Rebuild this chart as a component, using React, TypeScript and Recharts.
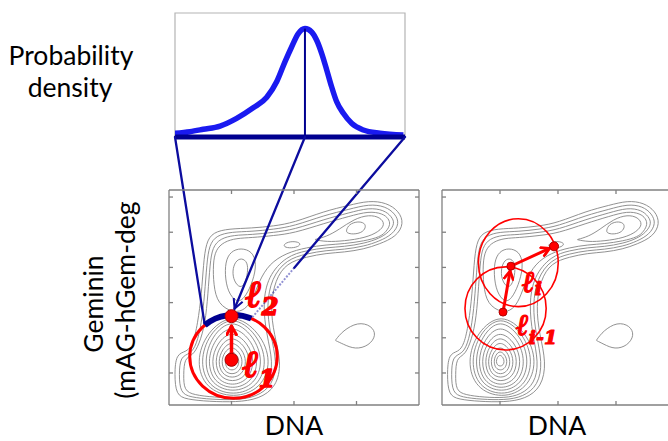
import React from 'react';
import { ComposedChart, Line, XAxis, YAxis, ReferenceLine, ReferenceDot, ReferenceArea } from 'recharts';

const CANVAS_W = 668;
const CANVAS_H = 441;

// Plot rectangles of the three panels (pixels)
const DENSITY_BOX = { left: 175, top: 13, right: 405, bottom: 137 };
const LEFT_BOX = { left: 169, top: 190, right: 419, bottom: 405 };
const RIGHT_BOX = { left: 442, top: 190, right: 674, bottom: 405 };

// Axis domains and tick positions
const DENSITY_X_DOMAIN = [0, 100];
const DENSITY_Y_DOMAIN = [0, 1];
const DNA_DOMAIN = [0, 100];
const GEMININ_DOMAIN = [-18.2, 104];
const DNA_TICKS = [25, 50, 75];
const GEMININ_TICKS = [0, 20, 40, 60, 80, 100];

// Probability density sampled along the blue arc
const arcPosition = [0, 6.5, 12.3, 19.6, 26.8, 34.0, 39.9, 44.2, 47.8, 50.7, 53.6, 56.5, 59.4, 61.6, 63.8, 66.0, 68.1, 70.3, 73.2, 76.8, 81.9, 89.1, 99.3];
const probabilityDensity = [0.03, 0.043, 0.062, 0.088, 0.15, 0.235, 0.32, 0.445, 0.606, 0.726, 0.834, 0.874, 0.847, 0.78, 0.673, 0.539, 0.405, 0.284, 0.191, 0.11, 0.056, 0.03, 0.016];

// Contours of the DNA / Geminin density, as closed control polygons [x0, y0, x1, y1, ...]
const clusterRings = [
  [25, 10.5, 26.35, 8.86, 26.9, 6.5, 26.4, 4.5, 25.1, 3.7, 23.8, 4.5, 23.3, 6.5, 23.8, 8.86],
  [25, 12.8, 27.25, 10.2, 28.2, 6.5, 27.3, 2.7, 25.2, 1.3, 23.0, 2.7, 22.3, 6.5, 23.05, 10.2],
  [25, 15.4, 28.3, 11.8, 29.6, 6.5, 28.4, 1.0, 25.2, -1.1, 22.0, 1.0, 20.9, 6.5, 22.1, 11.8],
  [25, 18.4, 29.35, 13.5, 31.1, 6.5, 29.5, -0.6, 25.3, -3.2, 21.0, -0.6, 19.6, 6.5, 21.2, 13.5],
  [25, 21.4, 30.5, 15.3, 32.7, 6.5, 30.7, -2.2, 25.4, -5.4, 20.0, -2.2, 18.3, 6.5, 20.2, 15.3],
  [25, 24.4, 31.7, 17.0, 34.3, 6.5, 31.9, -3.8, 25.4, -7.6, 18.9, -3.8, 16.8, 6.5, 19.15, 17.0],
  [25, 27.9, 32.9, 19.2, 36.0, 6.5, 33.2, -5.2, 25.5, -9.6, 17.8, -5.2, 15.3, 6.5, 18.1, 19.2],
  [25, 31.3, 34.1, 21.1, 37.7, 6.5, 34.4, -6.5, 25.6, -11.4, 16.7, -6.5, 13.9, 6.5, 17.05, 21.1],
  [25.2, 33.3, 35.3, 22.3, 39.4, 6.5, 35.7, -7.9, 25.7, -13.2, 15.6, -7.9, 12.3, 6.5, 15.9, 22.3],
  [25.4, 34.6, 36.5, 23.1, 41.1, 6.5, 36.9, -8.9, 25.8, -14.6, 14.5, -8.9, 10.8, 6.5, 14.9, 23.1],
];

const bandContours = [
  [27, -16.6, 16, -16.2, 7, -15, 2.8, -12.5, 2.2, -1, 2.8, 11, 7, 12, 9.5, 16, 11.5, 28, 13, 45, 13.8, 62, 14.8, 74, 17.5, 80, 24, 82, 33, 82.3, 42, 83.5, 50, 85.5, 62, 91.9, 72, 95.3, 80, 98, 87, 96.8, 92, 92, 94, 85, 91, 77.5, 84, 73.2, 78, 70.4, 70, 68.6, 63, 68.1, 55, 66, 47, 62.5, 42.5, 53, 40.5, 38, 42, 22, 45, 6, 43, -8, 36, -14.8],
  [27, -15.4, 17, -15, 8.5, -13.8, 4.5, -11.2, 4, -1, 4.5, 9.5, 8.5, 10.8, 11, 16, 13, 28, 14.3, 45, 15.1, 62, 16.1, 72.8, 19, 78.2, 25, 80.2, 33, 80.4, 42, 81.7, 50, 83.5, 62, 89.6, 72, 93, 80, 96, 86.5, 94.8, 90.5, 90.5, 92.2, 85, 89.5, 78.8, 84, 74.8, 78, 72, 70, 70.2, 63, 69.7, 55, 67.8, 47, 64.5, 41, 54, 39, 38.5, 40.5, 22, 43.3, 6, 41.5, -7, 35, -13.6],
  [27, -14.2, 18, -13.8, 10, -12.5, 6, -10, 5.8, -1, 6.2, 8.5, 9.5, 10, 12, 16, 14.5, 28, 15.6, 45, 16.4, 62, 17.4, 71.5, 20.5, 76.4, 26, 78.4, 33, 78.6, 42, 79.9, 50, 81.5, 62, 87.3, 72, 91, 80, 94, 86, 92.6, 89, 89, 90.4, 85, 88, 80, 84, 76.4, 78, 73.6, 70, 71.8, 63, 71.3, 55, 69.6, 47, 66.5, 39.5, 55, 37.5, 39, 39, 22, 41.7, 6, 40, -6, 34, -12.4],
  [26, 34, 19.5, 39, 17.8, 50, 17.6, 62, 18.6, 70, 22, 74.6, 27, 76.6, 33, 76.9, 42, 78.1, 50, 79.5, 62, 85, 72, 89, 80, 92, 85.5, 90.6, 87.8, 87.8, 88.6, 84.5, 87, 80.5, 84.5, 77.3, 78, 75, 70, 73.4, 63, 72.9, 55, 71.3, 47, 68.3, 40, 62, 36, 52, 33.5, 42, 30.5, 36],
  [27, 40, 23.5, 46, 22.3, 56, 22.8, 65, 25.5, 70, 30, 71, 34, 68, 35, 60, 33, 50, 30, 42],
];

const peakLoops = [
  [28.5, 48, 26, 52, 25.3, 58, 26.5, 63.5, 29, 65.5, 31.5, 63, 31.5, 57, 30.5, 51],
  [45.5, 72.5, 47.5, 74.6, 51, 74.8, 53, 73.3, 51, 71.2, 47, 71],
  [58.2, 75.8, 58.2, 75.8, 63, 77.5, 68, 81.5, 74, 87.5, 80, 90, 84.5, 88.5, 86.5, 84.5, 84, 80.3, 78.5, 76.8, 70, 75, 63, 74.5],
  [70.8, 81, 72, 84.5, 75.3, 86.2, 78.3, 85.4, 78.8, 82.5, 77, 79.6, 73.5, 78.8, 71.2, 79.5],
];

const sideBlob = [66.5, 18.5, 66.5, 18.5, 69.5, 24, 75.5, 29, 81, 27, 83, 21.5, 80, 15.5, 74.5, 13.3, 69.5, 16.5];

// Search steps (DNA, Geminin) and the search circles around them
const leftSteps = [{ x: 25, y: 7.5 }, { x: 25, y: 32.3 }];
const leftStepNames = ['1', '2'];
const leftCircle = { x: 25.8, y: 9.3, rx: 17.5, ry: 23.7 };
const arcAngles = [66, 131];

const rightSteps = [{ x: 26.3, y: 34.6 }, { x: 29.7, y: 60.7 }, { x: 48.3, y: 72 }];
const rightStepNames = ['i-1', 'i', ''];
const rightCircles = [
  { x: 27.4, y: 36.7, rx: 17.5, ry: 23.6 },
  { x: 32.9, y: 62.7, rx: 17.2, ry: 25 },
];

// ---- styling ----
const AXIS_GREY = '#808080';
const CONTOUR_GREY = '#858585';
const NAVY = '#000090';
const LINE_NAVY = '#0c0c9e';
const CURVE_BLUE = '#1a1af0';
const RED = '#ff0000';
const TEXT_FONT = "Lato, 'Open Sans', sans-serif";
const SCRIPT_FONT = "'DejaVu Serif', serif";

const LEFT_LABEL_STYLE = [
  { dx: 11, dy: 17, size: 38, weight: 1.6, subDx: 0, subDy: 10, subSize: 24 },
  { dx: 14, dy: -9, size: 38, weight: 1.6, subDx: 0, subDy: 8, subSize: 24 },
];
const RIGHT_LABEL_STYLE = [
  { dx: 13, dy: 23, size: 30, weight: 1.2, subDx: 0, subDy: 9, subSize: 19 },
  { dx: 11, dy: 26, size: 30, weight: 1.2, subDx: 0, subDy: 3, subSize: 19 },
  null,
];

type Pt = { x: number; y: number };
type Box = { left: number; top: number; right: number; bottom: number };

const toPoints = (flat: number[]): Pt[] => {
  const out: Pt[] = [];
  for (let i = 0; i < flat.length; i += 2) out.push({ x: flat[i], y: flat[i + 1] });
  return out;
};

const contourSet = [...clusterRings, ...bandContours, ...peakLoops, sideBlob].map(toPoints);
const densityData = arcPosition.map((x, i) => ({ x, y: probabilityDensity[i] }));
const peakIndex = probabilityDensity.indexOf(Math.max(...probabilityDensity));
const peakPos = arcPosition[peakIndex];
const peakDensity = probabilityDensity[peakIndex];

const pxPerX = (b: Box) => (b.right - b.left) / (DNA_DOMAIN[1] - DNA_DOMAIN[0]);
const pxPerY = (b: Box) => (b.bottom - b.top) / (GEMININ_DOMAIN[1] - GEMININ_DOMAIN[0]);

// position in the density box expressed in the left panel's data units
function densityToLeft(pos: number, dens: number): Pt {
  const px = DENSITY_BOX.left + ((pos - DENSITY_X_DOMAIN[0]) / (DENSITY_X_DOMAIN[1] - DENSITY_X_DOMAIN[0])) * (DENSITY_BOX.right - DENSITY_BOX.left);
  const py = DENSITY_BOX.bottom - ((dens - DENSITY_Y_DOMAIN[0]) / (DENSITY_Y_DOMAIN[1] - DENSITY_Y_DOMAIN[0])) * (DENSITY_BOX.bottom - DENSITY_BOX.top);
  return {
    x: DNA_DOMAIN[0] + (px - LEFT_BOX.left) / pxPerX(LEFT_BOX),
    y: GEMININ_DOMAIN[0] + (LEFT_BOX.bottom - py) / pxPerY(LEFT_BOX),
  };
}

function ellipsePoint(c: { x: number; y: number; rx: number; ry: number }, deg: number): Pt {
  const a = (deg * Math.PI) / 180;
  return { x: c.x + c.rx * Math.cos(a), y: c.y + c.ry * Math.sin(a) };
}

// shorten a segment by a number of pixels at each end
function trimSegment(a: Pt, b: Pt, startPx: number, endPx: number, sx: number, sy: number): [Pt, Pt] {
  const len = Math.hypot((b.x - a.x) * sx, (b.y - a.y) * sy);
  const t0 = startPx / len;
  const t1 = 1 - endPx / len;
  return [
    { x: a.x + (b.x - a.x) * t0, y: a.y + (b.y - a.y) * t0 },
    { x: a.x + (b.x - a.x) * t1, y: a.y + (b.y - a.y) * t1 },
  ];
}

const lerp = (a: Pt, b: Pt, t: number): Pt => ({ x: a.x + (b.x - a.x) * t, y: a.y + (b.y - a.y) * t });

const noLabel = () => <g />;

function panelAxes() {
  const common = {
    type: 'number' as const,
    mirror: true,
    tick: noLabel,
    tickSize: 4,
    interval: 0 as const,
    allowDataOverflow: true,
    stroke: AXIS_GREY,
    axisLine: { stroke: AXIS_GREY, strokeWidth: 1.3 },
    tickLine: { stroke: AXIS_GREY, strokeWidth: 1.3 },
  };
  return [
    <XAxis key="xb" xAxisId={0} orientation="bottom" dataKey="x" domain={DNA_DOMAIN} ticks={DNA_TICKS} height={1} {...common} />,
    <XAxis key="xt" xAxisId="top" orientation="top" dataKey="x" domain={DNA_DOMAIN} ticks={DNA_TICKS} height={1} {...common} />,
    <YAxis key="yl" yAxisId={0} orientation="left" domain={GEMININ_DOMAIN} ticks={GEMININ_TICKS} width={1} {...common} />,
    <YAxis key="yr" yAxisId="right" orientation="right" domain={GEMININ_DOMAIN} ticks={GEMININ_TICKS} width={1} {...common} />,
  ];
}

function contourLines(prefix: string) {
  return contourSet.map((pts, i) => (
    <Line
      key={`${prefix}-${i}`}
      data={pts}
      dataKey="y"
      type="basisClosed"
      stroke={CONTOUR_GREY}
      strokeWidth={0.9}
      dot={false}
      activeDot={false}
      legendType="none"
      isAnimationActive={false}
    />
  ));
}

const segmentShape = (stroke: string, width: number, marker?: string, extra?: object) => (p: any) => (
  <line
    x1={p.x1}
    y1={p.y1}
    x2={p.x2}
    y2={p.y2}
    stroke={stroke}
    strokeWidth={width}
    strokeLinecap="round"
    markerEnd={marker ? `url(#${marker})` : undefined}
    {...extra}
  />
);

const ellipseShape = (c: { rx: number; ry: number }, sx: number, sy: number, width: number) => (p: any) => (
  <ellipse cx={p.cx} cy={p.cy} rx={c.rx * sx} ry={c.ry * sy} fill="none" stroke={RED} strokeWidth={width} />
);

const arcShape = (c: { rx: number; ry: number }, angles: number[], sx: number, sy: number) => (p: any) => {
  const rx = c.rx * sx;
  const ry = c.ry * sy;
  const [a0, a1] = angles.map((d) => (d * Math.PI) / 180);
  const x0 = p.cx + rx * Math.cos(a0);
  const y0 = p.cy - ry * Math.sin(a0);
  const x1 = p.cx + rx * Math.cos(a1);
  const y1 = p.cy - ry * Math.sin(a1);
  return <path d={`M${x0},${y0} A${rx},${ry} 0 0 0 ${x1},${y1}`} fill="none" stroke={NAVY} strokeWidth={6} />;
};

type LabelStyle = { dx: number; dy: number; size: number; weight: number; subDx: number; subDy: number; subSize: number } | null;

const stepDot = (r: number, name: string, style: LabelStyle) => (p: any) => (
  <g>
    <circle cx={p.cx} cy={p.cy} r={r} fill={RED} stroke="#b00000" strokeWidth={1} />
    {style && (
      <text
        x={p.cx + style.dx}
        y={p.cy + style.dy}
        fill={RED}
        stroke={RED}
        strokeWidth={style.weight}
        strokeLinejoin="round"
        fontFamily={SCRIPT_FONT}
        fontStyle="italic"
        fontWeight="bold"
        fontSize={style.size}
      >
        ℓ
        <tspan dx={style.subDx} dy={style.subDy} fontSize={style.subSize}>
          {name}
        </tspan>
      </text>
    )}
  </g>
);

function DensityPanel() {
  return (
    <ComposedChart
      width={CANVAS_W}
      height={CANVAS_H}
      margin={{ top: DENSITY_BOX.top, left: DENSITY_BOX.left, right: CANVAS_W - DENSITY_BOX.right, bottom: CANVAS_H - DENSITY_BOX.bottom }}
    >
      <XAxis type="number" dataKey="x" domain={DENSITY_X_DOMAIN} hide allowDataOverflow />
      <YAxis type="number" domain={DENSITY_Y_DOMAIN} hide allowDataOverflow />
      <ReferenceArea x1={DENSITY_X_DOMAIN[0]} x2={DENSITY_X_DOMAIN[1]} y1={DENSITY_Y_DOMAIN[0]} y2={DENSITY_Y_DOMAIN[1]} fill="none" stroke="#b4b4b4" strokeWidth={1.2} ifOverflow="visible" />
      <Line data={densityData} dataKey="y" type="monotone" stroke={CURVE_BLUE} strokeWidth={5.5} dot={false} activeDot={false} isAnimationActive={false} />
      <ReferenceLine segment={[{ x: peakPos, y: 0 }, { x: peakPos, y: peakDensity }]} stroke={NAVY} strokeWidth={2} ifOverflow="visible" />
      <ReferenceLine y={0} stroke={NAVY} strokeWidth={5} ifOverflow="visible" />
    </ComposedChart>
  );
}

function LeftPanel() {
  const sx = pxPerX(LEFT_BOX);
  const sy = pxPerY(LEFT_BOX);
  const arcLeft = ellipsePoint(leftCircle, arcAngles[1]);
  const arcRight = ellipsePoint(leftCircle, arcAngles[0]);
  const topLeft = densityToLeft(DENSITY_X_DOMAIN[0], 0);
  const topRight = densityToLeft(DENSITY_X_DOMAIN[1], 0);
  const topPeak = densityToLeft(peakPos, 0);
  const [, peakEnd] = trimSegment(topPeak, leftSteps[1], 0, 8, sx, sy);
  const fadeStart = lerp(topRight, arcRight, 0.72);
  const [stepA, stepB] = trimSegment(leftSteps[0], leftSteps[1], 7, 10, sx, sy);
  return (
    <ComposedChart
      width={CANVAS_W}
      height={CANVAS_H}
      margin={{ top: LEFT_BOX.top, left: LEFT_BOX.left, right: CANVAS_W - LEFT_BOX.right, bottom: CANVAS_H - LEFT_BOX.bottom }}
    >
      {panelAxes()}
      {contourLines('l')}
      <ReferenceDot x={leftCircle.x} y={leftCircle.y} r={1} shape={ellipseShape(leftCircle, sx, sy, 3)} />
      <ReferenceDot x={leftCircle.x} y={leftCircle.y} r={1} shape={arcShape(leftCircle, arcAngles, sx, sy)} />
      <ReferenceLine segment={[topLeft, arcLeft]} ifOverflow="visible" shape={segmentShape(LINE_NAVY, 2.3)} />
      <ReferenceLine segment={[topRight, fadeStart]} ifOverflow="visible" shape={segmentShape(LINE_NAVY, 2.3)} />
      <ReferenceLine segment={[fadeStart, arcRight]} ifOverflow="visible" shape={segmentShape(LINE_NAVY, 2, undefined, { strokeOpacity: 0.45, strokeDasharray: '2 1.5', strokeLinecap: 'butt' })} />
      <ReferenceLine segment={[topPeak, peakEnd]} ifOverflow="visible" shape={segmentShape(LINE_NAVY, 2.3, 'headNavy')} />
      <ReferenceLine segment={[stepA, stepB]} ifOverflow="visible" shape={segmentShape(RED, 3.5, 'headRedBig')} />
      {leftSteps.map((s, i) => (
        <ReferenceDot key={`ls${i}`} x={s.x} y={s.y} r={6.5} shape={stepDot(6.5, leftStepNames[i], LEFT_LABEL_STYLE[i])} />
      ))}
    </ComposedChart>
  );
}

function RightPanel() {
  const sx = pxPerX(RIGHT_BOX);
  const sy = pxPerY(RIGHT_BOX);
  const width = RIGHT_BOX.right + 6;
  const moves = rightSteps.slice(1).map((p, i) => trimSegment(rightSteps[i], p, 4, 5, sx, sy));
  return (
    <ComposedChart
      width={width}
      height={CANVAS_H}
      margin={{ top: RIGHT_BOX.top, left: RIGHT_BOX.left, right: width - RIGHT_BOX.right, bottom: CANVAS_H - RIGHT_BOX.bottom }}
    >
      {panelAxes()}
      {contourLines('r')}
      {rightCircles.map((c, i) => (
        <ReferenceDot key={`rc${i}`} x={c.x} y={c.y} r={1} shape={ellipseShape(c, sx, sy, 1.6)} />
      ))}
      {moves.map((m, i) => (
        <ReferenceLine key={`rm${i}`} segment={m} ifOverflow="visible" shape={segmentShape(RED, 3, 'headRed')} />
      ))}
      {rightSteps.map((s, i) => (
        <ReferenceDot key={`rs${i}`} x={s.x} y={s.y} r={4} shape={stepDot(i === 2 ? 4.5 : 4, rightStepNames[i], RIGHT_LABEL_STYLE[i])} />
      ))}
    </ComposedChart>
  );
}

const layer: React.CSSProperties = { position: 'absolute', left: 0, top: 0 };

export default function App() {
  return (
    <div style={{ position: 'absolute', left: 0, top: 0, width: CANVAS_W, height: CANVAS_H, overflow: 'hidden', background: '#ffffff' }}>
      <svg width={0} height={0} style={{ position: 'absolute' }}>
        <defs>
          <marker id="headNavy" viewBox="0 0 10 10" refX="9" refY="5" markerWidth="12" markerHeight="12" markerUnits="userSpaceOnUse" orient="auto">
            <path d="M1,1 L9,5 L1,9" fill="none" stroke={LINE_NAVY} strokeWidth="1.7" />
          </marker>
          <marker id="headRedBig" viewBox="0 0 10 10" refX="8.5" refY="5" markerWidth="12" markerHeight="12" markerUnits="userSpaceOnUse" orient="auto">
            <path d="M1.5,1 L8.5,5 L1.5,9" fill="none" stroke={RED} strokeWidth="2.6" strokeLinecap="round" strokeLinejoin="round" />
          </marker>
          <marker id="headRed" viewBox="0 0 10 10" refX="8.5" refY="5" markerWidth="11" markerHeight="11" markerUnits="userSpaceOnUse" orient="auto">
            <path d="M1.5,1 L8.5,5 L1.5,9" fill="none" stroke={RED} strokeWidth="2.6" strokeLinecap="round" strokeLinejoin="round" />
          </marker>
        </defs>
      </svg>
      <div style={layer}>
        <DensityPanel />
      </div>
      <div style={layer}>
        <LeftPanel />
      </div>
      <div style={layer}>
        <RightPanel />
      </div>
      <svg style={{ ...layer, pointerEvents: 'none' }} width={CANVAS_W} height={CANVAS_H}>
        <g fontFamily={TEXT_FONT} fontSize={26.5} fill="#000000">
          <text x={71} y={65} textAnchor="middle">Probability</text>
          <text x={70} y={97} textAnchor="middle">density</text>
          <text x={294} y={435} textAnchor="middle">DNA</text>
          <text x={557} y={435} textAnchor="middle">DNA</text>
          <text x={103} y={304} textAnchor="middle" transform="rotate(-90 103 304)">Geminin</text>
          <text x={135} y={300} textAnchor="middle" transform="rotate(-90 135 300)">(mAG-hGem-deg</text>
        </g>
      </svg>
    </div>
  );
}
